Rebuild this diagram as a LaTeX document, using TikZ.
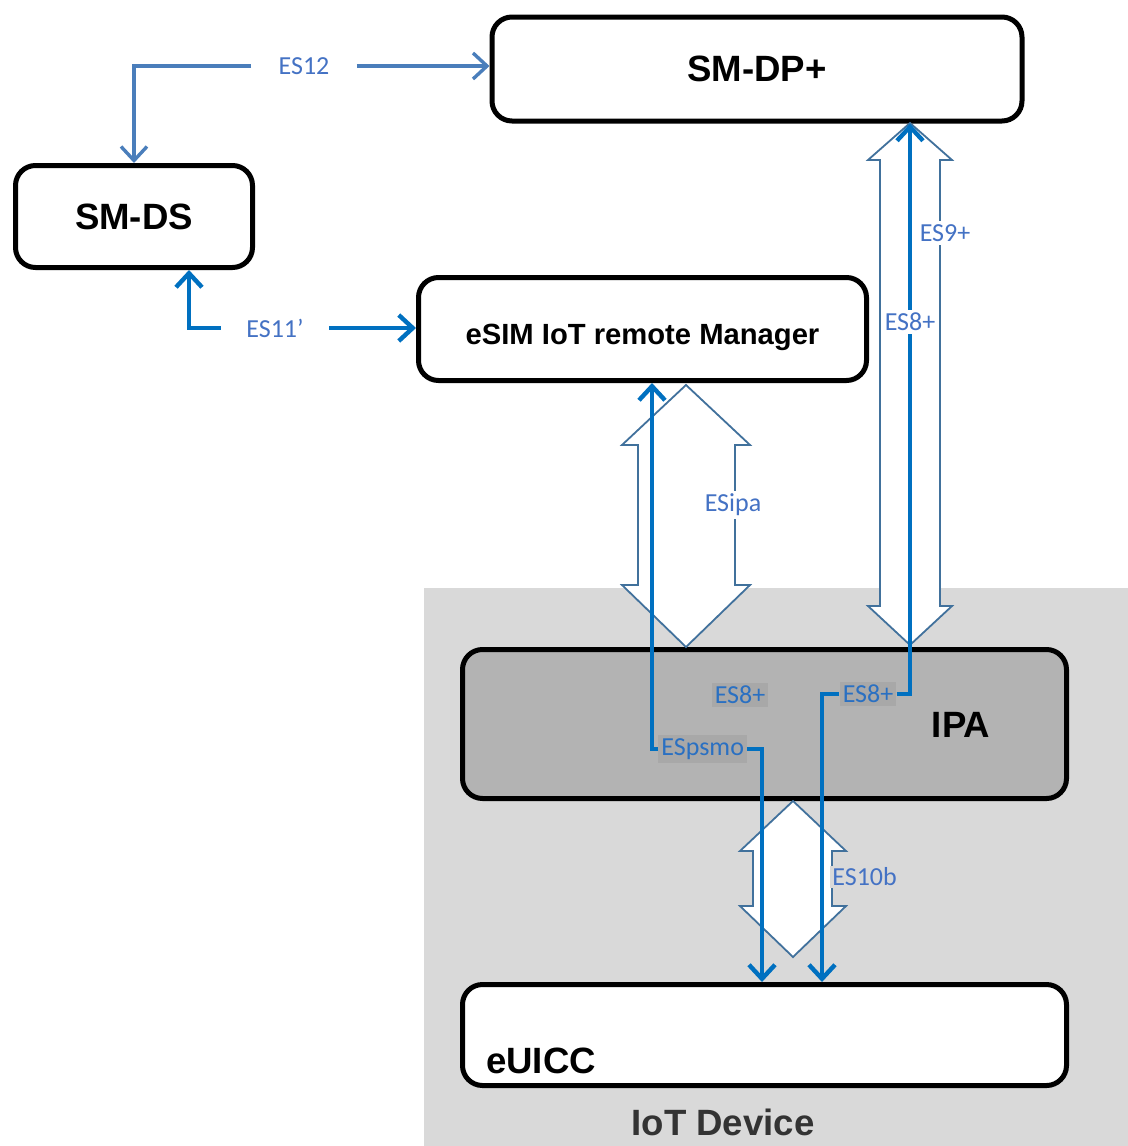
\documentclass[tikz,border=0pt]{standalone}
\usepackage{fontspec}
\setmainfont{Liberation Sans}
\newfontfamily\lblfont{Carlito}
\usetikzlibrary{arrows.meta}

\definecolor{steel}{HTML}{4A7EBB}
\definecolor{hollowline}{HTML}{41719C}
\definecolor{thickblue}{HTML}{0070C0}
\definecolor{lblblue}{HTML}{4472C4}
\definecolor{ipablue}{HTML}{2A70C2}
\definecolor{devgrey}{HTML}{D9D9D9}
\definecolor{ipagrey}{HTML}{B3B3B3}
\definecolor{tagrey}{HTML}{A8A8A8}

\begin{document}
\begin{tikzpicture}[x=0.5pt,y=-0.5pt,
  box/.style={draw=black, line width=2.5pt, rounded corners=10pt, fill=white, inner sep=0pt,
    font=\bfseries\fontsize{18.3}{20}\selectfont},
  lbl/.style={font=\lblfont\fontsize{13}{15}\selectfont, text=lblblue, fill=white, inner sep=1.5pt},
  ipalbl/.style={font=\lblfont\fontsize{13}{15}\selectfont, text=ipablue, fill=tagrey, inner sep=1.5pt},
  thin/.style={draw=steel, line width=1.7pt, -{Straight Barb[length=7pt,width=13pt]}},
  thk/.style={draw=thickblue, line width=2.2pt, -{Straight Barb[length=7pt,width=13pt]}},
  hollow/.style={draw=hollowline, line width=0.9pt, fill=white, line join=miter}]

\useasboundingbox (0,0) rectangle (1128,1146);
\fill[white] (0,0) rectangle (1128,1146);

% IoT device area
\fill[devgrey] (424,588) rectangle (1128,1146);
\node[font=\bfseries\fontsize{18.3}{20}\selectfont, text=black!80] (iotdev) at (723,1122) {IoT Device};

% boxes
\node[box, minimum width=265pt, minimum height=52pt] (smdp) at (757,69) {SM-DP+};
\node[box, minimum width=118.5pt, minimum height=51pt] (smds) at (134,216.5) {SM-DS};
\node[box, minimum width=224pt, minimum height=51.5pt, text depth=0pt, text height=15.5pt,
  font=\bfseries\fontsize{14.6}{16}\selectfont] (esim) at (642.5,329) {eSIM IoT remote Manager};
\node[box, fill=ipagrey, minimum width=302pt, minimum height=74.5pt] (ipa) at (764.5,724) {};
\node[font=\bfseries\fontsize{18.3}{20}\selectfont] (ipatxt) at (961,725) {IPA};
\node[box, minimum width=302pt, minimum height=50.5pt] (euicc) at (764.5,1035) {};
\node[font=\bfseries\fontsize{18.3}{20}\selectfont, anchor=west] (euicctxt) at (479,1061) {eUICC};

% hollow interface arrows
\draw[hollow] (686,385) -- (750,445) -- (735,445) -- (735,585) -- (750,585) -- (686,647)
  -- (622,585) -- (638,585) -- (638,445) -- (622,445) -- cycle;
\draw[hollow] (910,123) -- (952,160) -- (940,160) -- (940,606) -- (952,606) -- (910,645)
  -- (868,606) -- (880,606) -- (880,160) -- (868,160) -- cycle;
\draw[hollow] (793,801) -- (846,851) -- (832,851) -- (832,906) -- (846,906) -- (793,957)
  -- (740,906) -- (753,906) -- (753,851) -- (740,851) -- cycle;
\node[lbl] (esipa) at (733,505) {ESipa};
\node[lbl] (es9) at (945,233) {ES9+};
\node[lbl, fill=devgrey, anchor=west, inner sep=1pt] (es10b) at (830,877) {ES10b};

% ES12 and ES11'
\node[lbl, inner xsep=13.5pt] (es12) at (304,66) {ES12};
\draw[thin] (es12.east) -- (smdp.west |- es12.east);
\draw[thin] (es12.west) -| (smds.north);
\coordinate (xes11) at (189,0);
\node[lbl, inner xsep=12.5pt] (es11) at (275,328) {ES11’};
\draw[thk] (es11.east) -- (esim.west |- es11.east);
\draw[thk] (es11.west) -| (smds.south -| xes11);

% ESpsmo and ES8+ lines
\coordinate (xps) at (652,0);
\coordinate (xpd) at (762,0);
\coordinate (xdp) at (910,0);
\coordinate (xeu) at (822,0);
\node[ipalbl, anchor=west] (espsmo) at (658,749) {ESpsmo\hspace{6pt}};
\node[ipalbl] (es8a) at (740,695) {ES8+};
\node[ipalbl] (es8b) at (868,694) {ES8+};
\draw[thk] (espsmo.west) -| (esim.south -| xps);
\draw[thk] (espsmo.east) -| (euicc.north -| xpd);
\draw[thk] (es8b.east) -| (smdp.south -| xdp);
\draw[thk] (es8b.west) -| (euicc.north -| xeu);
\node[lbl] (es8c) at (910,322) {ES8+};

\end{tikzpicture}
\end{document}
